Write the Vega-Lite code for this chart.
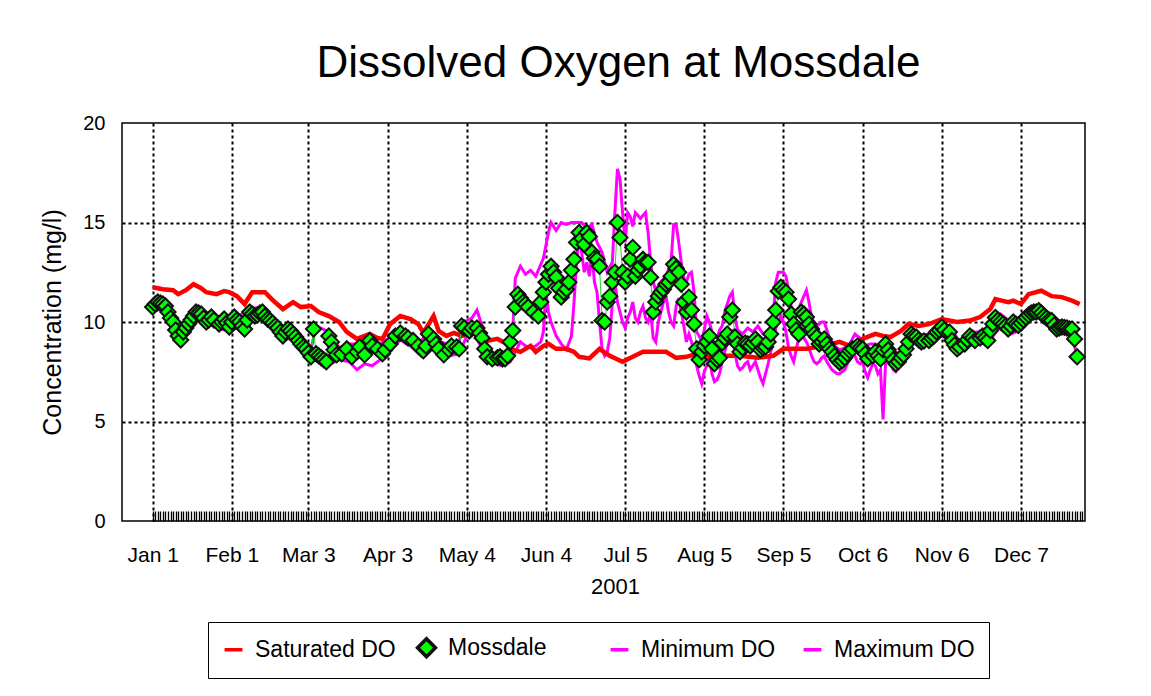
{
  "$schema": "https://vega.github.io/schema/vega-lite/v6.json",
  "width": 963,
  "height": 398,
  "autosize": {"type": "none"},
  "padding": {"left": 122, "top": 123, "right": 66, "bottom": 175},
  "background": "white",
  "title": {
    "text": "Dissolved Oxygen at Mossdale",
    "font": "Liberation Sans",
    "fontSize": 44,
    "fontWeight": "normal",
    "color": "black",
    "anchor": "middle",
    "frame": "group",
    "baseline": "alphabetic",
    "offset": -8,
    "dx": 15
  },
  "config": {
    "view": {"stroke": "black", "strokeWidth": 1.5},
    "font": "Liberation Sans",
    "axis": {
      "labelFont": "Liberation Sans",
      "titleFont": "Liberation Sans",
      "labelColor": "black",
      "titleColor": "black",
      "titleFontWeight": "normal",
      "domain": false
    }
  },
  "datasets": {
    "saturated": [
      {"date": "2001-01-01", "value": 11.75}, {"date": "2001-01-05", "value": 11.65}, {"date": "2001-01-09", "value": 11.6},
      {"date": "2001-01-11", "value": 11.4}, {"date": "2001-01-14", "value": 11.6}, {"date": "2001-01-17", "value": 11.9},
      {"date": "2001-01-20", "value": 11.7}, {"date": "2001-01-22", "value": 11.5}, {"date": "2001-01-26", "value": 11.4},
      {"date": "2001-01-29", "value": 11.55}, {"date": "2001-01-31", "value": 11.5}, {"date": "2001-02-03", "value": 11.3},
      {"date": "2001-02-06", "value": 10.9}, {"date": "2001-02-09", "value": 11.5}, {"date": "2001-02-14", "value": 11.5},
      {"date": "2001-02-17", "value": 11.1}, {"date": "2001-02-21", "value": 10.65}, {"date": "2001-02-25", "value": 11.0},
      {"date": "2001-02-28", "value": 10.75}, {"date": "2001-03-04", "value": 10.8}, {"date": "2001-03-07", "value": 10.5},
      {"date": "2001-03-11", "value": 10.3}, {"date": "2001-03-15", "value": 10.0}, {"date": "2001-03-18", "value": 9.5},
      {"date": "2001-03-22", "value": 9.15}, {"date": "2001-03-27", "value": 9.4}, {"date": "2001-03-30", "value": 9.2},
      {"date": "2001-04-01", "value": 9.15}, {"date": "2001-04-04", "value": 9.9}, {"date": "2001-04-08", "value": 10.3},
      {"date": "2001-04-12", "value": 10.15}, {"date": "2001-04-15", "value": 9.9}, {"date": "2001-04-17", "value": 9.45},
      {"date": "2001-04-21", "value": 10.3}, {"date": "2001-04-23", "value": 9.55}, {"date": "2001-04-26", "value": 9.3},
      {"date": "2001-04-29", "value": 9.45}, {"date": "2001-05-02", "value": 9.3}, {"date": "2001-05-05", "value": 9.4},
      {"date": "2001-05-08", "value": 9.45}, {"date": "2001-05-12", "value": 9.05}, {"date": "2001-05-16", "value": 9.15},
      {"date": "2001-05-19", "value": 8.95}, {"date": "2001-05-21", "value": 8.65}, {"date": "2001-05-25", "value": 8.5},
      {"date": "2001-05-29", "value": 8.8}, {"date": "2001-05-31", "value": 8.5}, {"date": "2001-06-03", "value": 8.8},
      {"date": "2001-06-05", "value": 8.9}, {"date": "2001-06-08", "value": 8.65}, {"date": "2001-06-12", "value": 8.65},
      {"date": "2001-06-15", "value": 8.5}, {"date": "2001-06-17", "value": 8.25}, {"date": "2001-06-21", "value": 8.17},
      {"date": "2001-06-25", "value": 8.65}, {"date": "2001-06-29", "value": 8.3}, {"date": "2001-07-04", "value": 8.0},
      {"date": "2001-07-08", "value": 8.25}, {"date": "2001-07-12", "value": 8.5}, {"date": "2001-07-17", "value": 8.5},
      {"date": "2001-07-21", "value": 8.5}, {"date": "2001-07-25", "value": 8.2}, {"date": "2001-07-29", "value": 8.25},
      {"date": "2001-08-02", "value": 8.4}, {"date": "2001-08-05", "value": 8.2}, {"date": "2001-08-09", "value": 8.3},
      {"date": "2001-08-12", "value": 8.3}, {"date": "2001-08-19", "value": 8.3}, {"date": "2001-08-26", "value": 8.2},
      {"date": "2001-09-01", "value": 8.3}, {"date": "2001-09-05", "value": 8.65}, {"date": "2001-09-09", "value": 8.65},
      {"date": "2001-09-14", "value": 8.65}, {"date": "2001-09-21", "value": 8.8}, {"date": "2001-09-27", "value": 9.0},
      {"date": "2001-10-01", "value": 8.8}, {"date": "2001-10-06", "value": 9.15}, {"date": "2001-10-11", "value": 9.4},
      {"date": "2001-10-14", "value": 9.3}, {"date": "2001-10-17", "value": 9.25}, {"date": "2001-10-21", "value": 9.55},
      {"date": "2001-10-24", "value": 9.9}, {"date": "2001-10-28", "value": 9.8}, {"date": "2001-11-01", "value": 9.9},
      {"date": "2001-11-06", "value": 10.15}, {"date": "2001-11-12", "value": 10.0}, {"date": "2001-11-17", "value": 10.07},
      {"date": "2001-11-21", "value": 10.25}, {"date": "2001-11-25", "value": 10.65}, {"date": "2001-11-27", "value": 11.15},
      {"date": "2001-12-02", "value": 11.0}, {"date": "2001-12-04", "value": 11.07}, {"date": "2001-12-07", "value": 10.9},
      {"date": "2001-12-10", "value": 11.4}, {"date": "2001-12-15", "value": 11.57}, {"date": "2001-12-19", "value": 11.3},
      {"date": "2001-12-23", "value": 11.25}, {"date": "2001-12-27", "value": 11.07}, {"date": "2001-12-30", "value": 10.9}
    ],
    "mossdale": [
      {"date": "2001-01-01", "value": 10.75}, {"date": "2001-01-02", "value": 10.9}, {"date": "2001-01-03", "value": 11.0},
      {"date": "2001-01-04", "value": 10.95}, {"date": "2001-01-05", "value": 10.9}, {"date": "2001-01-06", "value": 10.8},
      {"date": "2001-01-07", "value": 10.5}, {"date": "2001-01-08", "value": 10.2}, {"date": "2001-01-09", "value": 10.0},
      {"date": "2001-01-10", "value": 9.6}, {"date": "2001-01-11", "value": 9.3}, {"date": "2001-01-12", "value": 9.1},
      {"date": "2001-01-13", "value": 9.5}, {"date": "2001-01-14", "value": 9.7}, {"date": "2001-01-15", "value": 9.9},
      {"date": "2001-01-16", "value": 10.1}, {"date": "2001-01-17", "value": 10.3}, {"date": "2001-01-18", "value": 10.5},
      {"date": "2001-01-19", "value": 10.45}, {"date": "2001-01-20", "value": 10.4}, {"date": "2001-01-21", "value": 10.2},
      {"date": "2001-01-22", "value": 10.0}, {"date": "2001-01-23", "value": 10.1}, {"date": "2001-01-24", "value": 10.25},
      {"date": "2001-01-25", "value": 10.1}, {"date": "2001-01-27", "value": 9.9}, {"date": "2001-01-28", "value": 10.0},
      {"date": "2001-01-29", "value": 10.15}, {"date": "2001-01-30", "value": 9.95}, {"date": "2001-01-31", "value": 9.75},
      {"date": "2001-02-01", "value": 10.0}, {"date": "2001-02-02", "value": 10.25}, {"date": "2001-02-03", "value": 10.1},
      {"date": "2001-02-04", "value": 10.0}, {"date": "2001-02-05", "value": 9.8}, {"date": "2001-02-06", "value": 9.65},
      {"date": "2001-02-07", "value": 10.1}, {"date": "2001-02-08", "value": 10.5}, {"date": "2001-02-09", "value": 10.4},
      {"date": "2001-02-10", "value": 10.3}, {"date": "2001-02-11", "value": 10.35}, {"date": "2001-02-12", "value": 10.45},
      {"date": "2001-02-13", "value": 10.5}, {"date": "2001-02-14", "value": 10.3}, {"date": "2001-02-15", "value": 10.15},
      {"date": "2001-02-16", "value": 10.07}, {"date": "2001-02-17", "value": 9.95}, {"date": "2001-02-18", "value": 9.8},
      {"date": "2001-02-19", "value": 9.7}, {"date": "2001-02-20", "value": 9.5}, {"date": "2001-02-21", "value": 9.3},
      {"date": "2001-02-22", "value": 9.5}, {"date": "2001-02-23", "value": 9.65}, {"date": "2001-02-24", "value": 9.55},
      {"date": "2001-02-25", "value": 9.4}, {"date": "2001-02-26", "value": 9.25}, {"date": "2001-02-27", "value": 9.07},
      {"date": "2001-02-28", "value": 8.9}, {"date": "2001-03-01", "value": 8.75}, {"date": "2001-03-02", "value": 8.65},
      {"date": "2001-03-03", "value": 8.45}, {"date": "2001-03-04", "value": 8.25}, {"date": "2001-03-05", "value": 9.65},
      {"date": "2001-03-06", "value": 8.4}, {"date": "2001-03-07", "value": 8.3}, {"date": "2001-03-08", "value": 8.2},
      {"date": "2001-03-09", "value": 8.1}, {"date": "2001-03-10", "value": 8.0}, {"date": "2001-03-11", "value": 9.3},
      {"date": "2001-03-12", "value": 9.0}, {"date": "2001-03-13", "value": 8.6}, {"date": "2001-03-14", "value": 8.35},
      {"date": "2001-03-16", "value": 8.4}, {"date": "2001-03-18", "value": 8.65}, {"date": "2001-03-20", "value": 8.25},
      {"date": "2001-03-22", "value": 8.5}, {"date": "2001-03-23", "value": 8.75}, {"date": "2001-03-25", "value": 8.35},
      {"date": "2001-03-27", "value": 9.07}, {"date": "2001-03-28", "value": 8.8}, {"date": "2001-03-30", "value": 8.65},
      {"date": "2001-04-01", "value": 8.4}, {"date": "2001-04-02", "value": 8.6}, {"date": "2001-04-04", "value": 8.9},
      {"date": "2001-04-06", "value": 9.3}, {"date": "2001-04-08", "value": 9.45}, {"date": "2001-04-10", "value": 9.3},
      {"date": "2001-04-11", "value": 9.2}, {"date": "2001-04-13", "value": 9.07}, {"date": "2001-04-15", "value": 8.8},
      {"date": "2001-04-17", "value": 8.55}, {"date": "2001-04-18", "value": 8.8}, {"date": "2001-04-19", "value": 9.4},
      {"date": "2001-04-21", "value": 9.15}, {"date": "2001-04-22", "value": 8.9}, {"date": "2001-04-23", "value": 8.65},
      {"date": "2001-04-25", "value": 8.35}, {"date": "2001-04-27", "value": 8.6}, {"date": "2001-04-28", "value": 8.8},
      {"date": "2001-04-30", "value": 8.75}, {"date": "2001-05-01", "value": 8.65}, {"date": "2001-05-02", "value": 9.8},
      {"date": "2001-05-03", "value": 9.7}, {"date": "2001-05-05", "value": 9.55}, {"date": "2001-05-06", "value": 9.7},
      {"date": "2001-05-08", "value": 9.7}, {"date": "2001-05-09", "value": 9.45}, {"date": "2001-05-10", "value": 9.2},
      {"date": "2001-05-11", "value": 8.65}, {"date": "2001-05-12", "value": 8.25}, {"date": "2001-05-14", "value": 8.15},
      {"date": "2001-05-16", "value": 8.2}, {"date": "2001-05-17", "value": 8.25}, {"date": "2001-05-18", "value": 8.15},
      {"date": "2001-05-19", "value": 8.15}, {"date": "2001-05-20", "value": 8.3}, {"date": "2001-05-21", "value": 9.0},
      {"date": "2001-05-22", "value": 9.57}, {"date": "2001-05-23", "value": 10.75}, {"date": "2001-05-24", "value": 11.4},
      {"date": "2001-05-25", "value": 11.2}, {"date": "2001-05-26", "value": 11.0}, {"date": "2001-05-27", "value": 10.9},
      {"date": "2001-05-28", "value": 10.75}, {"date": "2001-05-30", "value": 10.5}, {"date": "2001-06-01", "value": 10.3},
      {"date": "2001-06-02", "value": 11.0}, {"date": "2001-06-03", "value": 11.5}, {"date": "2001-06-04", "value": 12.0},
      {"date": "2001-06-05", "value": 12.4}, {"date": "2001-06-06", "value": 12.8}, {"date": "2001-06-07", "value": 12.5},
      {"date": "2001-06-08", "value": 12.25}, {"date": "2001-06-09", "value": 11.7}, {"date": "2001-06-10", "value": 11.25},
      {"date": "2001-06-11", "value": 11.5}, {"date": "2001-06-12", "value": 11.65}, {"date": "2001-06-13", "value": 12.0},
      {"date": "2001-06-14", "value": 12.6}, {"date": "2001-06-15", "value": 13.15}, {"date": "2001-06-16", "value": 14.0},
      {"date": "2001-06-17", "value": 14.5}, {"date": "2001-06-18", "value": 14.2}, {"date": "2001-06-19", "value": 13.9},
      {"date": "2001-06-20", "value": 14.5}, {"date": "2001-06-21", "value": 14.3}, {"date": "2001-06-22", "value": 13.5},
      {"date": "2001-06-23", "value": 13.2}, {"date": "2001-06-24", "value": 13.15}, {"date": "2001-06-25", "value": 12.8},
      {"date": "2001-06-26", "value": 10.07}, {"date": "2001-06-27", "value": 10.0}, {"date": "2001-06-28", "value": 11.0},
      {"date": "2001-06-29", "value": 11.3}, {"date": "2001-06-30", "value": 12.0}, {"date": "2001-07-01", "value": 12.5},
      {"date": "2001-07-02", "value": 15.0}, {"date": "2001-07-03", "value": 14.25}, {"date": "2001-07-04", "value": 12.5},
      {"date": "2001-07-05", "value": 12.0}, {"date": "2001-07-06", "value": 12.3}, {"date": "2001-07-07", "value": 13.15},
      {"date": "2001-07-08", "value": 13.75}, {"date": "2001-07-09", "value": 12.3}, {"date": "2001-07-10", "value": 12.6},
      {"date": "2001-07-11", "value": 12.8}, {"date": "2001-07-12", "value": 13.15}, {"date": "2001-07-13", "value": 13.0},
      {"date": "2001-07-14", "value": 13.0}, {"date": "2001-07-15", "value": 12.25}, {"date": "2001-07-16", "value": 10.5},
      {"date": "2001-07-17", "value": 11.0}, {"date": "2001-07-18", "value": 11.3}, {"date": "2001-07-19", "value": 11.5},
      {"date": "2001-07-20", "value": 11.65}, {"date": "2001-07-21", "value": 11.9}, {"date": "2001-07-22", "value": 12.0},
      {"date": "2001-07-23", "value": 12.3}, {"date": "2001-07-24", "value": 12.9}, {"date": "2001-07-25", "value": 12.7},
      {"date": "2001-07-26", "value": 12.5}, {"date": "2001-07-27", "value": 11.9}, {"date": "2001-07-28", "value": 11.0},
      {"date": "2001-07-29", "value": 10.5}, {"date": "2001-07-30", "value": 11.25}, {"date": "2001-07-31", "value": 10.6},
      {"date": "2001-08-01", "value": 9.9}, {"date": "2001-08-02", "value": 8.65}, {"date": "2001-08-03", "value": 8.1},
      {"date": "2001-08-04", "value": 8.5}, {"date": "2001-08-05", "value": 8.8}, {"date": "2001-08-06", "value": 9.0},
      {"date": "2001-08-07", "value": 9.3}, {"date": "2001-08-08", "value": 8.65}, {"date": "2001-08-09", "value": 7.9},
      {"date": "2001-08-10", "value": 8.1}, {"date": "2001-08-11", "value": 8.2}, {"date": "2001-08-12", "value": 8.95},
      {"date": "2001-08-13", "value": 9.2}, {"date": "2001-08-14", "value": 9.4}, {"date": "2001-08-15", "value": 10.25},
      {"date": "2001-08-16", "value": 10.6}, {"date": "2001-08-17", "value": 9.25}, {"date": "2001-08-18", "value": 8.9},
      {"date": "2001-08-19", "value": 8.5}, {"date": "2001-08-20", "value": 8.7}, {"date": "2001-08-21", "value": 8.95},
      {"date": "2001-08-22", "value": 8.9}, {"date": "2001-08-23", "value": 8.8}, {"date": "2001-08-24", "value": 8.95},
      {"date": "2001-08-25", "value": 9.15}, {"date": "2001-08-26", "value": 9.0}, {"date": "2001-08-27", "value": 8.6},
      {"date": "2001-08-28", "value": 8.7}, {"date": "2001-08-29", "value": 8.75}, {"date": "2001-08-30", "value": 9.0},
      {"date": "2001-08-31", "value": 9.4}, {"date": "2001-09-01", "value": 10.0}, {"date": "2001-09-02", "value": 10.6},
      {"date": "2001-09-03", "value": 11.55}, {"date": "2001-09-04", "value": 11.75}, {"date": "2001-09-05", "value": 11.6},
      {"date": "2001-09-06", "value": 11.5}, {"date": "2001-09-07", "value": 11.15}, {"date": "2001-09-08", "value": 10.4},
      {"date": "2001-09-09", "value": 9.9}, {"date": "2001-09-10", "value": 9.6}, {"date": "2001-09-11", "value": 9.4},
      {"date": "2001-09-12", "value": 10.5}, {"date": "2001-09-13", "value": 10.4}, {"date": "2001-09-14", "value": 10.25},
      {"date": "2001-09-15", "value": 9.9}, {"date": "2001-09-16", "value": 9.65}, {"date": "2001-09-17", "value": 9.4},
      {"date": "2001-09-18", "value": 9.25}, {"date": "2001-09-19", "value": 8.9}, {"date": "2001-09-20", "value": 9.0},
      {"date": "2001-09-21", "value": 9.15}, {"date": "2001-09-22", "value": 8.9}, {"date": "2001-09-23", "value": 8.65},
      {"date": "2001-09-24", "value": 8.5}, {"date": "2001-09-25", "value": 8.3}, {"date": "2001-09-26", "value": 8.1},
      {"date": "2001-09-27", "value": 7.97}, {"date": "2001-09-28", "value": 8.05}, {"date": "2001-09-29", "value": 8.2},
      {"date": "2001-09-30", "value": 8.4}, {"date": "2001-10-01", "value": 8.55}, {"date": "2001-10-02", "value": 8.65},
      {"date": "2001-10-04", "value": 8.8}, {"date": "2001-10-05", "value": 8.7}, {"date": "2001-10-06", "value": 8.65},
      {"date": "2001-10-07", "value": 8.4}, {"date": "2001-10-08", "value": 8.15}, {"date": "2001-10-10", "value": 8.3},
      {"date": "2001-10-11", "value": 8.5}, {"date": "2001-10-12", "value": 8.3}, {"date": "2001-10-13", "value": 8.15},
      {"date": "2001-10-14", "value": 8.6}, {"date": "2001-10-15", "value": 8.9}, {"date": "2001-10-16", "value": 8.6},
      {"date": "2001-10-17", "value": 8.35}, {"date": "2001-10-18", "value": 8.1}, {"date": "2001-10-19", "value": 7.9},
      {"date": "2001-10-20", "value": 8.0}, {"date": "2001-10-21", "value": 8.2}, {"date": "2001-10-22", "value": 8.35},
      {"date": "2001-10-23", "value": 8.65}, {"date": "2001-10-24", "value": 9.0}, {"date": "2001-10-25", "value": 9.4},
      {"date": "2001-10-26", "value": 9.3}, {"date": "2001-10-27", "value": 9.25}, {"date": "2001-10-28", "value": 9.1},
      {"date": "2001-10-29", "value": 9.0}, {"date": "2001-10-30", "value": 9.05}, {"date": "2001-11-01", "value": 9.07},
      {"date": "2001-11-02", "value": 9.2}, {"date": "2001-11-03", "value": 9.3}, {"date": "2001-11-04", "value": 9.5},
      {"date": "2001-11-05", "value": 9.6}, {"date": "2001-11-06", "value": 9.75}, {"date": "2001-11-07", "value": 9.6},
      {"date": "2001-11-09", "value": 9.5}, {"date": "2001-11-10", "value": 9.07}, {"date": "2001-11-11", "value": 8.85},
      {"date": "2001-11-12", "value": 8.65}, {"date": "2001-11-13", "value": 8.75}, {"date": "2001-11-15", "value": 8.9},
      {"date": "2001-11-16", "value": 9.1}, {"date": "2001-11-17", "value": 9.3}, {"date": "2001-11-18", "value": 9.2},
      {"date": "2001-11-19", "value": 9.07}, {"date": "2001-11-21", "value": 9.2}, {"date": "2001-11-22", "value": 9.3},
      {"date": "2001-11-23", "value": 9.2}, {"date": "2001-11-24", "value": 9.07}, {"date": "2001-11-25", "value": 9.57},
      {"date": "2001-11-26", "value": 9.9}, {"date": "2001-11-27", "value": 10.23}, {"date": "2001-11-28", "value": 10.1},
      {"date": "2001-11-29", "value": 10.0}, {"date": "2001-11-30", "value": 9.9}, {"date": "2001-12-01", "value": 9.8},
      {"date": "2001-12-02", "value": 9.65}, {"date": "2001-12-03", "value": 9.8}, {"date": "2001-12-04", "value": 10.0},
      {"date": "2001-12-05", "value": 9.9}, {"date": "2001-12-06", "value": 9.83}, {"date": "2001-12-07", "value": 9.95},
      {"date": "2001-12-08", "value": 10.1}, {"date": "2001-12-09", "value": 10.23}, {"date": "2001-12-10", "value": 10.35},
      {"date": "2001-12-11", "value": 10.45}, {"date": "2001-12-12", "value": 10.5}, {"date": "2001-12-13", "value": 10.5},
      {"date": "2001-12-14", "value": 10.57}, {"date": "2001-12-15", "value": 10.45}, {"date": "2001-12-16", "value": 10.3},
      {"date": "2001-12-17", "value": 10.2}, {"date": "2001-12-18", "value": 10.1}, {"date": "2001-12-19", "value": 10.07},
      {"date": "2001-12-20", "value": 9.85}, {"date": "2001-12-21", "value": 9.65}, {"date": "2001-12-22", "value": 9.7},
      {"date": "2001-12-23", "value": 9.75}, {"date": "2001-12-24", "value": 9.73}, {"date": "2001-12-25", "value": 9.7},
      {"date": "2001-12-26", "value": 9.65}, {"date": "2001-12-27", "value": 9.65}, {"date": "2001-12-28", "value": 9.15},
      {"date": "2001-12-29", "value": 8.25}
    ],
    "maximum": [
      {"date": "2001-01-01", "value": 11.0}, {"date": "2001-01-05", "value": 11.1}, {"date": "2001-01-09", "value": 10.3},
      {"date": "2001-01-12", "value": 9.4}, {"date": "2001-01-16", "value": 10.4}, {"date": "2001-01-19", "value": 10.7},
      {"date": "2001-01-23", "value": 10.4}, {"date": "2001-01-27", "value": 10.2}, {"date": "2001-01-31", "value": 10.0},
      {"date": "2001-02-04", "value": 10.3}, {"date": "2001-02-08", "value": 10.7}, {"date": "2001-02-13", "value": 10.7},
      {"date": "2001-02-17", "value": 10.2}, {"date": "2001-02-21", "value": 9.6}, {"date": "2001-02-25", "value": 9.7},
      {"date": "2001-03-01", "value": 9.1}, {"date": "2001-03-04", "value": 8.6}, {"date": "2001-03-06", "value": 9.8},
      {"date": "2001-03-11", "value": 9.5}, {"date": "2001-03-15", "value": 8.7}, {"date": "2001-03-19", "value": 8.9},
      {"date": "2001-03-23", "value": 8.9}, {"date": "2001-03-27", "value": 9.3}, {"date": "2001-03-31", "value": 8.9},
      {"date": "2001-04-04", "value": 9.2}, {"date": "2001-04-08", "value": 9.7}, {"date": "2001-04-12", "value": 9.4},
      {"date": "2001-04-16", "value": 9.0}, {"date": "2001-04-19", "value": 9.6}, {"date": "2001-04-23", "value": 9.0},
      {"date": "2001-04-27", "value": 8.9}, {"date": "2001-05-01", "value": 9.0}, {"date": "2001-05-03", "value": 10.0},
      {"date": "2001-05-06", "value": 10.2}, {"date": "2001-05-08", "value": 10.6}, {"date": "2001-05-10", "value": 9.8},
      {"date": "2001-05-12", "value": 8.6}, {"date": "2001-05-15", "value": 8.4}, {"date": "2001-05-18", "value": 8.4},
      {"date": "2001-05-21", "value": 8.6}, {"date": "2001-05-22", "value": 9.5}, {"date": "2001-05-23", "value": 12.2},
      {"date": "2001-05-25", "value": 12.8}, {"date": "2001-05-27", "value": 12.4}, {"date": "2001-05-29", "value": 12.6},
      {"date": "2001-05-31", "value": 12.3}, {"date": "2001-06-02", "value": 12.9}, {"date": "2001-06-03", "value": 13.2},
      {"date": "2001-06-05", "value": 14.5}, {"date": "2001-06-06", "value": 15.0}, {"date": "2001-06-08", "value": 14.6},
      {"date": "2001-06-10", "value": 15.0}, {"date": "2001-06-12", "value": 14.9}, {"date": "2001-06-14", "value": 15.0},
      {"date": "2001-06-16", "value": 15.0}, {"date": "2001-06-18", "value": 15.0}, {"date": "2001-06-20", "value": 14.7},
      {"date": "2001-06-22", "value": 14.9}, {"date": "2001-06-24", "value": 14.0}, {"date": "2001-06-26", "value": 13.5},
      {"date": "2001-06-28", "value": 12.5}, {"date": "2001-06-30", "value": 13.0}, {"date": "2001-07-01", "value": 15.5},
      {"date": "2001-07-02", "value": 17.7}, {"date": "2001-07-03", "value": 17.2}, {"date": "2001-07-04", "value": 15.5},
      {"date": "2001-07-05", "value": 14.0}, {"date": "2001-07-06", "value": 15.5}, {"date": "2001-07-07", "value": 15.3},
      {"date": "2001-07-08", "value": 14.8}, {"date": "2001-07-09", "value": 15.5}, {"date": "2001-07-11", "value": 15.2},
      {"date": "2001-07-13", "value": 15.5}, {"date": "2001-07-14", "value": 14.5}, {"date": "2001-07-15", "value": 13.0},
      {"date": "2001-07-16", "value": 12.0}, {"date": "2001-07-17", "value": 11.6}, {"date": "2001-07-19", "value": 12.0},
      {"date": "2001-07-21", "value": 12.3}, {"date": "2001-07-23", "value": 13.0}, {"date": "2001-07-24", "value": 14.9},
      {"date": "2001-07-25", "value": 14.9}, {"date": "2001-07-26", "value": 14.0}, {"date": "2001-07-27", "value": 13.0},
      {"date": "2001-07-28", "value": 12.2}, {"date": "2001-07-29", "value": 12.0}, {"date": "2001-07-30", "value": 12.4},
      {"date": "2001-07-31", "value": 12.5}, {"date": "2001-08-01", "value": 11.5}, {"date": "2001-08-02", "value": 9.5},
      {"date": "2001-08-03", "value": 9.3}, {"date": "2001-08-04", "value": 9.0}, {"date": "2001-08-05", "value": 9.6},
      {"date": "2001-08-06", "value": 10.3}, {"date": "2001-08-07", "value": 10.0}, {"date": "2001-08-08", "value": 9.5},
      {"date": "2001-08-09", "value": 9.3}, {"date": "2001-08-10", "value": 9.2}, {"date": "2001-08-11", "value": 9.6},
      {"date": "2001-08-12", "value": 9.8}, {"date": "2001-08-13", "value": 10.5}, {"date": "2001-08-15", "value": 11.3},
      {"date": "2001-08-16", "value": 11.5}, {"date": "2001-08-17", "value": 10.3}, {"date": "2001-08-18", "value": 9.6},
      {"date": "2001-08-20", "value": 9.4}, {"date": "2001-08-22", "value": 9.7}, {"date": "2001-08-24", "value": 9.5},
      {"date": "2001-08-26", "value": 9.8}, {"date": "2001-08-28", "value": 9.4}, {"date": "2001-08-30", "value": 9.3},
      {"date": "2001-09-01", "value": 10.3}, {"date": "2001-09-02", "value": 12.0}, {"date": "2001-09-03", "value": 12.5},
      {"date": "2001-09-05", "value": 12.5}, {"date": "2001-09-06", "value": 12.3}, {"date": "2001-09-07", "value": 11.6},
      {"date": "2001-09-08", "value": 10.8}, {"date": "2001-09-10", "value": 10.3}, {"date": "2001-09-12", "value": 11.0},
      {"date": "2001-09-14", "value": 11.6}, {"date": "2001-09-15", "value": 11.0}, {"date": "2001-09-16", "value": 10.2},
      {"date": "2001-09-18", "value": 9.8}, {"date": "2001-09-20", "value": 10.0}, {"date": "2001-09-21", "value": 10.0},
      {"date": "2001-09-23", "value": 9.2}, {"date": "2001-09-25", "value": 8.8}, {"date": "2001-09-27", "value": 8.6},
      {"date": "2001-09-29", "value": 8.7}, {"date": "2001-10-01", "value": 8.9}, {"date": "2001-10-03", "value": 9.4},
      {"date": "2001-10-05", "value": 9.2}, {"date": "2001-10-07", "value": 8.8}, {"date": "2001-10-09", "value": 8.9},
      {"date": "2001-10-11", "value": 8.9}, {"date": "2001-10-13", "value": 8.7}, {"date": "2001-10-14", "value": 9.0},
      {"date": "2001-10-16", "value": 9.2}, {"date": "2001-10-18", "value": 8.6}, {"date": "2001-10-20", "value": 8.4},
      {"date": "2001-10-22", "value": 8.7}, {"date": "2001-10-24", "value": 9.4}, {"date": "2001-10-26", "value": 9.6},
      {"date": "2001-10-28", "value": 9.3}, {"date": "2001-11-01", "value": 9.4}, {"date": "2001-11-05", "value": 9.8},
      {"date": "2001-11-09", "value": 9.8}, {"date": "2001-11-13", "value": 9.0}, {"date": "2001-11-17", "value": 9.5},
      {"date": "2001-11-21", "value": 9.5}, {"date": "2001-11-25", "value": 9.8}, {"date": "2001-11-29", "value": 10.4},
      {"date": "2001-12-03", "value": 10.0}, {"date": "2001-12-07", "value": 10.2}, {"date": "2001-12-11", "value": 10.7},
      {"date": "2001-12-15", "value": 10.7}, {"date": "2001-12-19", "value": 10.3}, {"date": "2001-12-23", "value": 9.9},
      {"date": "2001-12-27", "value": 9.9}, {"date": "2001-12-29", "value": 9.3}
    ],
    "minimum": [
      {"date": "2001-01-01", "value": 10.5}, {"date": "2001-01-05", "value": 10.7}, {"date": "2001-01-09", "value": 9.8},
      {"date": "2001-01-12", "value": 8.9}, {"date": "2001-01-16", "value": 9.9}, {"date": "2001-01-19", "value": 10.3},
      {"date": "2001-01-23", "value": 9.9}, {"date": "2001-01-27", "value": 9.7}, {"date": "2001-01-31", "value": 9.5},
      {"date": "2001-02-04", "value": 9.8}, {"date": "2001-02-08", "value": 10.3}, {"date": "2001-02-13", "value": 10.3},
      {"date": "2001-02-17", "value": 9.7}, {"date": "2001-02-21", "value": 9.1}, {"date": "2001-02-25", "value": 9.2},
      {"date": "2001-03-01", "value": 8.5}, {"date": "2001-03-04", "value": 8.0}, {"date": "2001-03-06", "value": 8.2},
      {"date": "2001-03-10", "value": 7.8}, {"date": "2001-03-15", "value": 8.1}, {"date": "2001-03-19", "value": 8.0},
      {"date": "2001-03-22", "value": 7.6}, {"date": "2001-03-25", "value": 7.9}, {"date": "2001-03-28", "value": 7.8},
      {"date": "2001-03-31", "value": 8.1}, {"date": "2001-04-04", "value": 8.6}, {"date": "2001-04-08", "value": 9.1},
      {"date": "2001-04-12", "value": 8.8}, {"date": "2001-04-16", "value": 8.3}, {"date": "2001-04-19", "value": 9.1},
      {"date": "2001-04-23", "value": 8.4}, {"date": "2001-04-27", "value": 8.3}, {"date": "2001-05-01", "value": 8.4},
      {"date": "2001-05-04", "value": 9.3}, {"date": "2001-05-07", "value": 9.4}, {"date": "2001-05-09", "value": 8.9},
      {"date": "2001-05-12", "value": 8.0}, {"date": "2001-05-15", "value": 7.9}, {"date": "2001-05-18", "value": 7.8},
      {"date": "2001-05-21", "value": 8.0}, {"date": "2001-05-23", "value": 8.5}, {"date": "2001-05-25", "value": 9.0},
      {"date": "2001-05-27", "value": 8.8}, {"date": "2001-05-29", "value": 8.7}, {"date": "2001-05-31", "value": 8.8},
      {"date": "2001-06-02", "value": 9.0}, {"date": "2001-06-03", "value": 9.5}, {"date": "2001-06-04", "value": 11.5},
      {"date": "2001-06-05", "value": 10.5}, {"date": "2001-06-06", "value": 10.0}, {"date": "2001-06-08", "value": 9.3},
      {"date": "2001-06-10", "value": 8.9}, {"date": "2001-06-12", "value": 8.6}, {"date": "2001-06-14", "value": 9.3},
      {"date": "2001-06-15", "value": 11.0}, {"date": "2001-06-16", "value": 13.0}, {"date": "2001-06-17", "value": 14.3},
      {"date": "2001-06-18", "value": 13.5}, {"date": "2001-06-19", "value": 12.5}, {"date": "2001-06-20", "value": 13.0},
      {"date": "2001-06-21", "value": 12.3}, {"date": "2001-06-22", "value": 13.5}, {"date": "2001-06-23", "value": 12.0},
      {"date": "2001-06-24", "value": 11.5}, {"date": "2001-06-25", "value": 10.0}, {"date": "2001-06-26", "value": 8.6},
      {"date": "2001-06-27", "value": 8.3}, {"date": "2001-06-28", "value": 8.5}, {"date": "2001-06-29", "value": 9.2},
      {"date": "2001-06-30", "value": 11.0}, {"date": "2001-07-01", "value": 12.0}, {"date": "2001-07-02", "value": 11.0},
      {"date": "2001-07-03", "value": 10.5}, {"date": "2001-07-04", "value": 10.0}, {"date": "2001-07-05", "value": 9.7},
      {"date": "2001-07-06", "value": 10.2}, {"date": "2001-07-07", "value": 10.5}, {"date": "2001-07-08", "value": 11.0},
      {"date": "2001-07-09", "value": 10.2}, {"date": "2001-07-10", "value": 10.0}, {"date": "2001-07-11", "value": 10.5},
      {"date": "2001-07-12", "value": 10.8}, {"date": "2001-07-13", "value": 10.2}, {"date": "2001-07-14", "value": 10.0},
      {"date": "2001-07-15", "value": 10.5}, {"date": "2001-07-16", "value": 9.2}, {"date": "2001-07-17", "value": 9.0},
      {"date": "2001-07-18", "value": 10.0}, {"date": "2001-07-19", "value": 10.5}, {"date": "2001-07-20", "value": 11.0},
      {"date": "2001-07-21", "value": 11.3}, {"date": "2001-07-22", "value": 10.5}, {"date": "2001-07-23", "value": 10.0},
      {"date": "2001-07-24", "value": 9.8}, {"date": "2001-07-25", "value": 10.8}, {"date": "2001-07-26", "value": 11.2},
      {"date": "2001-07-27", "value": 10.5}, {"date": "2001-07-28", "value": 9.8}, {"date": "2001-07-29", "value": 9.0},
      {"date": "2001-07-30", "value": 9.4}, {"date": "2001-07-31", "value": 9.0}, {"date": "2001-08-01", "value": 8.5},
      {"date": "2001-08-02", "value": 7.8}, {"date": "2001-08-03", "value": 7.3}, {"date": "2001-08-04", "value": 6.9},
      {"date": "2001-08-05", "value": 7.5}, {"date": "2001-08-06", "value": 7.8}, {"date": "2001-08-07", "value": 8.2},
      {"date": "2001-08-08", "value": 7.4}, {"date": "2001-08-09", "value": 7.0}, {"date": "2001-08-10", "value": 7.1},
      {"date": "2001-08-11", "value": 7.4}, {"date": "2001-08-12", "value": 8.0}, {"date": "2001-08-13", "value": 8.5},
      {"date": "2001-08-14", "value": 9.0}, {"date": "2001-08-15", "value": 9.3}, {"date": "2001-08-16", "value": 9.5},
      {"date": "2001-08-17", "value": 8.5}, {"date": "2001-08-18", "value": 7.8}, {"date": "2001-08-19", "value": 7.6},
      {"date": "2001-08-20", "value": 7.7}, {"date": "2001-08-21", "value": 7.9}, {"date": "2001-08-22", "value": 8.0},
      {"date": "2001-08-23", "value": 7.6}, {"date": "2001-08-24", "value": 7.8}, {"date": "2001-08-25", "value": 8.0},
      {"date": "2001-08-26", "value": 7.6}, {"date": "2001-08-27", "value": 7.2}, {"date": "2001-08-28", "value": 6.9},
      {"date": "2001-08-29", "value": 7.4}, {"date": "2001-08-30", "value": 7.9}, {"date": "2001-08-31", "value": 8.5},
      {"date": "2001-09-01", "value": 9.0}, {"date": "2001-09-02", "value": 9.7}, {"date": "2001-09-03", "value": 10.0},
      {"date": "2001-09-04", "value": 10.3}, {"date": "2001-09-05", "value": 10.0}, {"date": "2001-09-06", "value": 9.5},
      {"date": "2001-09-07", "value": 8.7}, {"date": "2001-09-08", "value": 8.3}, {"date": "2001-09-09", "value": 8.0},
      {"date": "2001-09-10", "value": 8.6}, {"date": "2001-09-11", "value": 9.2}, {"date": "2001-09-12", "value": 9.4},
      {"date": "2001-09-13", "value": 9.2}, {"date": "2001-09-14", "value": 9.0}, {"date": "2001-09-15", "value": 8.7},
      {"date": "2001-09-16", "value": 8.3}, {"date": "2001-09-17", "value": 8.0}, {"date": "2001-09-18", "value": 7.9},
      {"date": "2001-09-19", "value": 8.0}, {"date": "2001-09-20", "value": 8.2}, {"date": "2001-09-21", "value": 8.3},
      {"date": "2001-09-22", "value": 8.0}, {"date": "2001-09-23", "value": 7.8}, {"date": "2001-09-24", "value": 7.6},
      {"date": "2001-09-25", "value": 7.5}, {"date": "2001-09-26", "value": 7.4}, {"date": "2001-09-27", "value": 7.4},
      {"date": "2001-09-28", "value": 7.5}, {"date": "2001-09-29", "value": 7.6}, {"date": "2001-09-30", "value": 7.9},
      {"date": "2001-10-01", "value": 8.2}, {"date": "2001-10-02", "value": 8.4}, {"date": "2001-10-03", "value": 8.3},
      {"date": "2001-10-04", "value": 8.0}, {"date": "2001-10-05", "value": 7.9}, {"date": "2001-10-06", "value": 8.0},
      {"date": "2001-10-07", "value": 7.5}, {"date": "2001-10-08", "value": 7.2}, {"date": "2001-10-09", "value": 7.6},
      {"date": "2001-10-10", "value": 7.9}, {"date": "2001-10-11", "value": 7.8}, {"date": "2001-10-12", "value": 7.4},
      {"date": "2001-10-13", "value": 7.6}, {"date": "2001-10-14", "value": 5.1}, {"date": "2001-10-15", "value": 8.0},
      {"date": "2001-10-16", "value": 8.1}, {"date": "2001-10-17", "value": 7.9}, {"date": "2001-10-18", "value": 7.6},
      {"date": "2001-10-19", "value": 7.5}, {"date": "2001-10-20", "value": 7.7}, {"date": "2001-10-21", "value": 8.0},
      {"date": "2001-10-22", "value": 8.3}, {"date": "2001-10-23", "value": 8.5}, {"date": "2001-10-24", "value": 8.8},
      {"date": "2001-10-26", "value": 9.0}, {"date": "2001-10-28", "value": 8.8}, {"date": "2001-11-01", "value": 8.9},
      {"date": "2001-11-05", "value": 9.3}, {"date": "2001-11-09", "value": 9.2}, {"date": "2001-11-12", "value": 8.4},
      {"date": "2001-11-15", "value": 8.6}, {"date": "2001-11-17", "value": 9.0}, {"date": "2001-11-21", "value": 8.9},
      {"date": "2001-11-25", "value": 9.1}, {"date": "2001-11-29", "value": 9.8}, {"date": "2001-12-03", "value": 9.4},
      {"date": "2001-12-07", "value": 9.6}, {"date": "2001-12-11", "value": 10.2}, {"date": "2001-12-15", "value": 10.3},
      {"date": "2001-12-19", "value": 9.8}, {"date": "2001-12-23", "value": 9.5}, {"date": "2001-12-27", "value": 9.4},
      {"date": "2001-12-29", "value": 8.2}
    ]
  },
  "encoding": {
    "x": {
      "field": "date",
      "type": "temporal",
      "scale": {"type": "utc", "domain": [977270400000, 1009850400000], "nice": false},
      "axis": {
        "orient": "bottom",
        "title": "2001",
        "titleFontSize": 22,
        "titlePadding": 11,
        "titleX": 493,
        "tickCount": {"interval": "day", "step": 1},
        "labelExpr": "indexof([0,31,61,92,123,154,185,216,247,278,309,340], round((datum.value - 978307200000) / 86400000)) >= 0 ? utcFormat(datum.value, '%b %-d') : ''",
        "labelOverlap": false,
        "labelBound": false,
        "labelFlush": false,
        "labelFontSize": 21,
        "labelPadding": 33,
        "ticks": true,
        "tickSize": -10,
        "tickWidth": 1.3,
        "tickColor": "black",
        "tickOpacity": {"condition": {"test": "datum.value < 978307200000 || datum.value > 1009756800000", "value": 0}, "value": 1},
        "grid": true,
        "gridColor": "black",
        "gridWidth": 2,
        "gridDash": [3, 3],
        "gridOpacity": {"condition": {"test": "indexof([0,31,61,92,123,154,185,216,247,278,309,340], round((datum.value - 978307200000) / 86400000)) < 0", "value": 0}, "value": 1}
      }
    },
    "y": {
      "field": "value",
      "type": "quantitative",
      "scale": {"domain": [0, 20], "nice": false, "zero": true},
      "axis": {
        "title": "Concentration (mg/l)",
        "titleFontSize": 25,
        "titlePadding": 17,
        "values": [0, 5, 10, 15, 20],
        "labelFontSize": 20,
        "labelPadding": 17,
        "ticks": false,
        "grid": true,
        "gridColor": "black",
        "gridWidth": 2,
        "gridDash": [3, 3],
        "gridOpacity": {"condition": {"test": "datum.value === 0 || datum.value === 20", "value": 0}, "value": 1}
      }
    }
  },
  "layer": [
    {
      "data": {"name": "mossdale"},
      "transform": [{"filter": "false"}],
      "mark": {"type": "point", "filled": true, "fill": "#00ff00", "strokeWidth": 2, "opacity": 1},
      "encoding": {
        "stroke": {
          "datum": "Mossdale",
          "type": "nominal",
          "scale": {"domain": ["Saturated DO", "Mossdale", "Minimum DO", "Maximum DO"], "range": ["#ff0000", "#111111", "#ff00ff", "#ff00ff"]}
        },
        "shape": {
          "datum": "Mossdale",
          "type": "nominal",
          "scale": {"domain": ["Saturated DO", "Mossdale", "Minimum DO", "Maximum DO"], "range": ["stroke", "diamond", "stroke", "stroke"]},
          "legend": {
            "title": null,
            "orient": "none",
            "legendX": 86,
            "legendY": 499,
            "direction": "horizontal",
            "columns": 4,
            "gridAlign": "all",
            "columnPadding": 14,
            "padding": 14,
            "strokeColor": "black",
            "fillColor": "white",
            "labelFont": "Liberation Sans",
            "labelFontSize": 23,
            "labelColor": "black",
            "labelOffset": 10,
            "labelLimit": 300,
            "symbolSize": 320,
            "symbolStrokeWidth": 3.5,
            "symbolOpacity": 1
          }
        }
      }
    },
    {
      "data": {"name": "minimum"},
      "mark": {"type": "line", "strokeWidth": 3},
      "encoding": {
        "color": {
          "datum": "Minimum DO",
          "type": "nominal",
          "legend": null,
          "scale": {"domain": ["Saturated DO", "Minimum DO", "Maximum DO"], "range": ["#ff0000", "#ff00ff", "#ff00ff"]}
        }
      }
    },
    {
      "data": {"name": "maximum"},
      "mark": {"type": "line", "strokeWidth": 3},
      "encoding": {"color": {"datum": "Maximum DO", "type": "nominal", "legend": null}}
    },
    {
      "data": {"name": "saturated"},
      "mark": {"type": "line", "strokeWidth": 4.5},
      "encoding": {"color": {"datum": "Saturated DO", "type": "nominal", "legend": null}}
    },
    {
      "data": {"name": "mossdale"},
      "mark": {"type": "line", "strokeWidth": 1, "color": "#22dd22"},
      "encoding": {}
    },
    {
      "data": {"name": "mossdale"},
      "mark": {"type": "point", "filled": true, "fill": "#00ff00", "size": 230, "strokeWidth": 2, "opacity": 1},
      "encoding": {
        "stroke": {"datum": "Mossdale", "type": "nominal"},
        "shape": {"datum": "Mossdale", "type": "nominal"}
      }
    }
  ]
}
